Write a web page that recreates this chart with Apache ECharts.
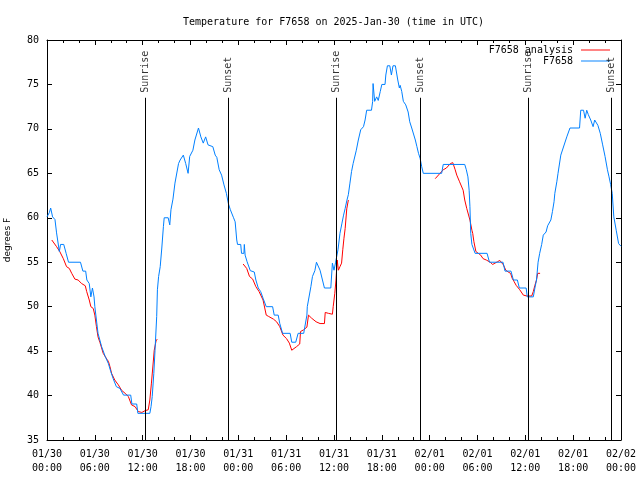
<!DOCTYPE html>
<html><head><meta charset="utf-8">
<script src="https://cdn.jsdelivr.net/npm/echarts@6/dist/echarts.min.js"></script>
<style>html,body{margin:0;padding:0;background:#fff}#c{width:640px;height:480px}</style>
</head><body><div id="c"></div>
<script>
// ---- data (hours since 2025-01-30 00:00 UTC, degrees F) ----
var tickDates = ['01/30','01/30','01/30','01/30','01/31','01/31','01/31','01/31','02/01','02/01','02/01','02/01','02/02'];
var tickTimes = ['00:00','06:00','12:00','18:00','00:00','06:00','12:00','18:00','00:00','06:00','12:00','18:00','00:00'];
var eventNames = ['Sunrise','Sunset','Sunrise','Sunset','Sunrise','Sunset'];
var eventHours = [12.3, 22.75, 36.3, 46.83, 60.38, 70.83];

var station = [[0,60.1],[0.3,60.6],[0.46,61.1],[0.7,60.1],[1.0,59.8],[1.2,58.3],[1.55,56.2],[1.7,57.0],[2.1,57.0],[2.4,56.0],[2.7,55.0],[4.2,55.0],[4.5,54.0],[4.85,54.0],[5.0,53.0],[5.3,52.6],[5.5,51.1],[5.7,52.1],[5.9,51.1],[6.0,50.0],[6.2,48.5],[6.4,47.0],[6.55,47.0],[6.85,45.5],[7.3,44.4],[7.5,44.0],[7.7,43.6],[8.0,42.7],[8.3,41.9],[8.7,41.0],[9.15,40.8],[9.6,40.05],[10.5,40.05],[10.65,39.05],[11.25,39.05],[11.4,38.0],[12.9,38.0],[13.05,38.75],[13.2,39.9],[13.4,42.5],[13.55,45.1],[13.76,48.9],[13.85,51.9],[14.0,53.4],[14.2,54.5],[14.4,56.6],[14.6,59.0],[14.7,60.0],[15.2,60.0],[15.4,59.2],[15.55,60.9],[15.8,62.1],[16.05,63.9],[16.3,64.1],[16.5,66.1],[16.7,66.5],[17.1,67.05],[17.4,66.1],[17.7,65.0],[17.9,66.9],[18.3,67.6],[18.55,68.75],[19.0,70.1],[19.3,69.1],[19.6,68.4],[19.9,69.1],[20.2,68.2],[20.8,68.0],[21.1,67.05],[21.3,66.8],[21.6,65.4],[21.9,64.8],[22.2,63.7],[22.5,62.75],[22.75,61.6],[23.0,60.9],[23.4,60.0],[23.6,59.55],[23.8,57.5],[23.9,57.0],[24.3,57.0],[24.4,56.0],[24.7,56.0],[24.75,57.0],[24.85,55.8],[25.1,55.05],[25.5,54.05],[26.0,53.9],[26.2,53.0],[26.5,52.1],[26.8,51.7],[27.1,50.95],[27.5,50.0],[28.3,50.0],[28.5,49.05],[29.0,49.05],[29.2,48.1],[29.55,47.0],[30.5,47.0],[30.7,46.0],[31.2,46.0],[31.5,47.0],[32.2,47.0],[32.6,49.05],[32.65,50.0],[32.9,50.0],[33.1,52.25],[33.3,53.4],[33.6,54.05],[33.8,55.0],[34.0,55.0],[34.25,54.1],[34.5,54.1],[34.8,52.1],[35.6,52.1],[35.8,54.9],[36.0,54.1],[36.2,55.0],[36.5,56.4],[36.75,58.25],[37.0,59.4],[37.2,60.3],[37.4,61.05],[37.6,61.9],[37.8,62.6],[38.0,63.9],[38.2,65.2],[38.4,66.1],[38.8,67.6],[39.05,68.75],[39.35,69.9],[39.7,70.25],[39.9,71.0],[40.1,72.1],[40.7,72.1],[40.85,73.1],[40.9,75.1],[41.1,73.1],[41.35,73.6],[41.55,73.2],[41.8,74.2],[42.0,75.0],[42.4,75.0],[42.5,76.06],[42.7,77.1],[43.0,77.1],[43.2,76.06],[43.4,77.1],[43.7,77.1],[44.0,75.5],[44.2,74.6],[44.3,74.9],[44.5,74.2],[44.7,73.1],[45.0,72.7],[45.3,71.9],[45.5,70.8],[45.75,70.1],[45.95,69.9],[46.2,68.75],[46.4,68.0],[46.6,67.25],[46.8,66.7],[47.0,65.75],[47.2,65.0],[49.5,65.0],[49.7,66.0],[52.4,66.0],[52.6,65.4],[52.8,64.6],[52.95,63.1],[53.05,61.25],[53.15,58.25],[53.3,57.0],[53.55,56.9],[53.7,56.0],[55.2,56.0],[55.5,55.0],[57.2,55.0],[57.45,54.0],[58.2,54.0],[58.5,53.0],[59.0,53.0],[59.25,52.1],[60.1,52.1],[60.25,51.1],[61.0,51.1],[61.2,52.1],[61.4,53.0],[61.6,55.0],[61.8,56.0],[62.05,57.0],[62.25,58.05],[62.6,58.4],[62.8,59.1],[63.0,59.1],[63.2,59.75],[63.4,60.7],[63.6,61.8],[63.7,62.75],[63.95,64.05],[64.1,65.0],[64.45,67.05],[64.7,67.05],[65.2,69.1],[65.6,70.1],[66.8,70.1],[66.95,72.1],[67.3,72.1],[67.5,71.2],[67.7,72.1],[67.9,71.6],[68.2,71.0],[68.5,70.25],[68.7,71.0],[68.9,71.0],[69.1,70.4],[69.4,69.5],[69.7,68.2],[70.0,66.9],[70.3,65.4],[70.5,64.6],[70.7,63.75],[70.9,62.75],[71.1,60.1],[71.4,58.6],[71.7,57.1],[72,56.8]];

var analysis1 = [[0.6,57.5],[0.85,57.5],[1.2,56.75],[1.6,56.2],[2.05,55.4],[2.45,54.5],[2.8,54.3],[3.1,53.75],[3.5,53.1],[3.9,53.0],[4.35,52.6],[4.8,52.35],[4.98,51.7],[5.3,50.75],[5.5,50.0],[5.8,49.8],[6.0,49.05],[6.2,47.75],[6.4,46.6],[6.65,45.95],[7.05,44.75],[7.5,44.1],[7.7,43.85],[7.9,43.25],[8.1,42.5],[8.5,41.75],[8.95,41.2],[9.35,40.6],[9.8,40.25],[10.2,39.9],[10.6,38.95],[11.05,38.75],[11.45,38.2],[11.9,38.1],[12.3,38.3],[12.7,38.4],[12.9,39.5],[13.1,41.4],[13.35,44.0],[13.45,45.1],[13.7,46.25],[13.85,46.3]];
var analysis2 = [[24.6,54.8],[25.05,54.3],[25.4,53.4],[25.8,53.1],[26.2,52.25],[26.6,51.7],[27.1,50.75],[27.5,49.05],[27.8,48.9],[28.4,48.6],[28.8,48.3],[29.2,47.75],[29.6,46.8],[30.05,46.4],[30.4,45.9],[30.7,45.1],[30.9,45.1],[31.3,45.5],[31.7,45.8],[31.8,47.2],[32.2,47.4],[32.6,47.7],[32.8,49.05],[33.2,48.7],[33.75,48.3],[34.0,48.3],[34.25,48.1],[34.8,48.1],[34.9,49.35],[35.3,49.25],[35.8,49.15],[35.9,50.0],[36.1,51.5],[36.25,53.0],[36.4,55.25],[36.55,54.1],[36.75,54.5],[36.85,54.3],[36.95,54.9],[37.1,56.4],[37.25,57.7],[37.4,58.8],[37.6,61.0],[37.8,62.0]];
var analysis3 = [[48.7,64.4],[48.9,64.4],[49.3,65.0],[49.7,65.4],[50.1,65.6],[50.3,65.8],[50.6,66.1],[50.9,66.2],[51.0,66.0],[51.2,65.4],[51.4,64.8],[51.75,64.05],[52.0,63.9],[52.2,63.1],[52.4,62.0],[52.65,61.05],[52.8,60.9],[53.05,59.75],[53.3,58.6],[53.4,58.25],[53.55,57.3],[53.8,56.2],[54.1,56.0],[54.4,55.8],[54.7,55.4],[55.1,55.25],[55.6,55.0],[55.9,54.75],[56.2,54.9],[56.5,55.05],[56.8,55.2],[57.0,55.05],[57.25,54.7],[57.55,54.1],[57.85,53.9],[58.15,53.75],[58.35,53.2],[58.6,52.8],[58.85,52.4],[59.1,52.4],[59.3,51.9],[59.5,51.7],[59.75,51.3],[60.2,51.2],[60.8,51.2],[61.0,51.7],[61.2,52.4],[61.4,53.0],[61.55,53.75],[61.85,53.75]];

// ---- chart ----
var MONO = 'DejaVu Sans Mono';
var chart = echarts.init(document.getElementById('c'), null, {renderer: 'canvas'});
var lineTop = 73.5;
var evMarks = eventHours.map(function (h) { return [{coord: [h, 35]}, {coord: [h, lineTop]}]; });
var evPoints = eventHours.map(function (h, i) { return {value: [h, lineTop], name: eventNames[i]}; });

function redSeries(d) {
  return {type: 'line', name: 'F7658 analysis', data: d, symbol: 'none', showSymbol: false,
    lineStyle: {color: '#ff0000', width: 1}, itemStyle: {color: '#ff0000'}, z: 3};
}

var axisCommon = {
  axisLine: {show: true, onZero: false, lineStyle: {color: '#000', width: 1}},
  splitLine: {show: false}
};

chart.setOption({
  animation: false,
  backgroundColor: '#fff',
  textStyle: {fontFamily: MONO},
  title: {
    text: 'Temperature for F7658 on 2025-Jan-30 (time in UTC)',
    left: 178, top: 12,
    textStyle: {fontFamily: MONO, fontSize: 10, fontWeight: 'normal', color: '#000'}
  },
  legend: {
    orient: 'vertical', right: 25, top: 40, align: 'right', itemGap: 1,
    itemWidth: 29, itemHeight: 12,
    icon: 'path://M0,5.5L30,5.5L30,6.5L0,6.5Z',
    data: ['F7658 analysis', 'F7658'],
    textStyle: {fontFamily: MONO, fontSize: 10, color: '#000', padding: [0, 3, 0, 0]}
  },
  grid: {left: 47, right: 19, top: 40, bottom: 40, containLabel: false, outerBoundsMode: 'none'},
  xAxis: [
    Object.assign({}, axisCommon, {
      type: 'value', min: 0, max: 72, interval: 6, position: 'bottom',
      axisTick: {show: true, inside: true, length: 5, lineStyle: {color: '#000'}},
      minorTick: {show: true, splitNumber: 3, length: 3, lineStyle: {color: '#000'}},
      axisLabel: {
        margin: 7, color: '#000', fontFamily: MONO, fontSize: 10, lineHeight: 14,
        formatter: function (v) { var i = Math.round(v / 6); return tickDates[i] + '\n' + tickTimes[i]; }
      }
    }),
    Object.assign({}, axisCommon, {
      type: 'value', min: 0, max: 72, interval: 6, position: 'top',
      axisTick: {show: true, inside: true, length: 5, lineStyle: {color: '#000'}},
      minorTick: {show: true, splitNumber: 3, length: 3, lineStyle: {color: '#000'}},
      axisLabel: {show: false}
    })
  ],
  yAxis: [
    Object.assign({}, axisCommon, {
      type: 'value', min: 35, max: 80, interval: 5, position: 'left',
      name: 'degrees F', nameLocation: 'middle', nameGap: 35, nameRotate: 90,
      nameTextStyle: {fontFamily: 'DejaVu Sans', fontSize: 9, color: '#000'},
      axisTick: {show: true, inside: true, length: 5, lineStyle: {color: '#000'}},
      axisLabel: {margin: 8, color: '#000', fontFamily: MONO, fontSize: 10}
    }),
    Object.assign({}, axisCommon, {
      type: 'value', min: 35, max: 80, interval: 5, position: 'right',
      axisTick: {show: true, inside: true, length: 5, lineStyle: {color: '#000'}},
      axisLabel: {show: false}
    })
  ],
  series: [
    redSeries(analysis1), redSeries(analysis2), redSeries(analysis3),
    {type: 'line', name: 'F7658', data: station, symbol: 'none', showSymbol: false,
      lineStyle: {color: '#0080ff', width: 1}, itemStyle: {color: '#0080ff'}, z: 4},
    {type: 'scatter', name: 'events', data: evPoints, symbol: 'circle', symbolSize: 0,
      itemStyle: {color: 'transparent'}, z: 5, silent: true,
      label: {show: true, formatter: '{b}', position: [0, -5], rotate: 90,
        align: 'left', verticalAlign: 'middle', color: '#000', fontFamily: MONO, fontSize: 10},
      markLine: {silent: true, symbol: ['none', 'none'], label: {show: false},
        lineStyle: {color: '#000', width: 1, type: 'solid'}, data: evMarks}
    }
  ]
});
</script></body></html>
